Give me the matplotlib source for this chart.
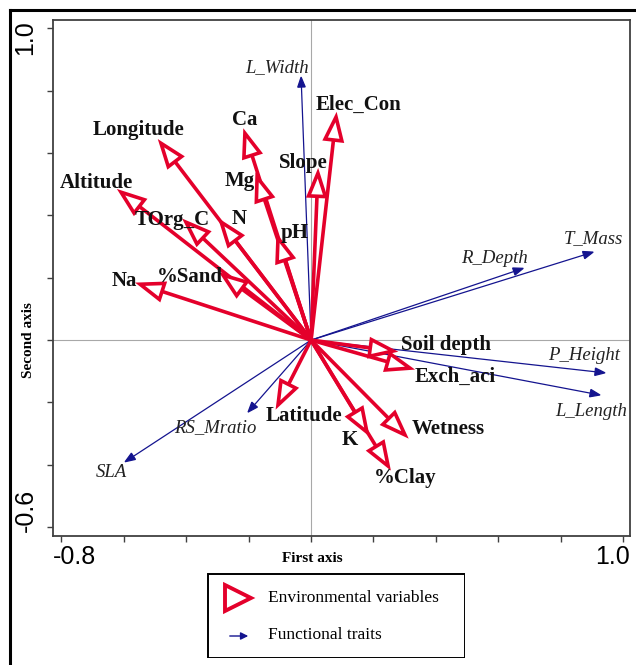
import numpy as np
import matplotlib
matplotlib.use("Agg")
import matplotlib.pyplot as plt
from matplotlib.patches import Polygon, Rectangle
from matplotlib.lines import Line2D

# Environmental variables (red, open heads): arrow tips and label centres
env_names = ["Longitude", "Ca", "Altitude", "Mg", "TOrg_C", "N", "pH", "Slope",
             "Elec_Con", "%Sand", "Na", "Soil depth", "Exch_aci", "Wetness",
             "K", "%Clay", "Latitude"]
env_x = [-0.481, -0.212, -0.609, -0.173, -0.401, -0.288, -0.106, 0.022,
         0.080, -0.282, -0.548, 0.263, 0.317, 0.301, 0.179, 0.247, -0.106]
env_y = [0.631, 0.663, 0.474, 0.522, 0.378, 0.378, 0.327, 0.535,
         0.715, 0.208, 0.179, -0.035, -0.090, -0.304, -0.295, -0.404, -0.208]
env_lab_x = [-0.554, -0.212, -0.689, -0.228, -0.446, -0.231, -0.054, -0.026,
             0.151, -0.388, -0.599, 0.433, 0.462, 0.439, 0.125, 0.301, -0.022]
env_lab_y = [0.673, 0.705, 0.503, 0.510, 0.385, 0.388, 0.343, 0.567,
             0.753, 0.202, 0.189, -0.016, -0.119, -0.285, -0.321, -0.442, -0.244]

# Functional traits (blue, filled heads)
trait_names = ["L_Width", "T_Mass", "R_Depth", "P_Height", "L_Length", "RS_Mratio", "SLA"]
trait_x = [-0.032, 0.904, 0.680, 0.942, 0.926, -0.202, -0.596]
trait_y = [0.843, 0.282, 0.230, -0.105, -0.176, -0.231, -0.390]
trait_lab_x = [-0.109, 0.904, 0.587, 0.875, 0.897, -0.308, -0.641]
trait_lab_y = [0.872, 0.324, 0.263, -0.051, -0.228, -0.282, -0.423]

RED = "#E4002B"
BLUE = "#14148F"
SERIF = ["Liberation Serif", "DejaVu Serif"]
SANS = ["Liberation Sans", "DejaVu Sans"]


def arrow(ax, x, y, color, lw, head_len, head_w, fill, zorder):
    d = np.hypot(x, y)
    ux, uy = x / d, y / d
    bx, by = x - head_len * ux, y - head_len * uy
    px, py = -uy, ux
    ax.plot([0, bx], [0, by], color=color, lw=lw, solid_capstyle="butt", zorder=zorder)
    head = Polygon([[x, y], [bx + head_w * px, by + head_w * py], [bx - head_w * px, by - head_w * py]],
                   closed=True, facecolor=fill, edgecolor=color, lw=lw, joinstyle="miter", zorder=zorder + 0.1)
    ax.add_patch(head)


fig = plt.figure(figsize=(6.36, 6.65), dpi=100)
ax = fig.add_axes([53 / 636, 129 / 665, 577 / 636, 516 / 665])
ax.set_xlim(-0.827, 1.022)
ax.set_ylim(-0.628, 1.026)

ax.axhline(0, color="#A8A8A8", lw=0.8, zorder=1)
ax.axvline(0, color="#A8A8A8", lw=0.8, zorder=1)

for x, y in zip(trait_x, trait_y):
    arrow(ax, x, y, BLUE, 0.9, 0.032, 0.012, BLUE, 2)
for x, y in zip(env_x, env_y):
    arrow(ax, x, y, RED, 2.6, 0.074, 0.027, "white", 3)

for name, x, y in zip(env_names, env_lab_x, env_lab_y):
    ax.text(x, y, name, ha="center", va="center", fontsize=15, fontweight="bold",
            family=SERIF, color="#111111", zorder=5)
for name, x, y in zip(trait_names, trait_lab_x, trait_lab_y):
    ax.text(x, y, name, ha="center", va="center", fontsize=13.5, fontstyle="italic",
            family=SERIF, color="#222222", zorder=5)

ax.set_xticks(np.round(np.arange(-0.8, 1.01, 0.2), 1))
ax.set_yticks(np.round(np.arange(-0.6, 1.01, 0.2), 1))
ax.set_xticklabels([])
ax.set_yticklabels([])
ax.tick_params(direction="out", length=4, width=1, color="#404040")
for s in ax.spines.values():
    s.set_color("#404040")
    s.set_linewidth(1.3)

# end labels only, like the original
ax.text(-0.827, -0.695, "-0.8", ha="left", va="center", fontsize=18, family=SANS)
ax.text(1.022, -0.695, "1.0", ha="right", va="center", fontsize=18, family=SANS)
ax.text(-0.915, 1.026, "1.0", ha="center", va="top", rotation=90, fontsize=18, family=SANS)
ax.text(-0.915, -0.615, "-0.6", ha="center", va="bottom", rotation=90, fontsize=18, family=SANS)

ax.text(0.005, -0.700, "First axis", ha="center", va="center", fontsize=11,
        fontweight="bold", family=SERIF)
ax.text(-0.905, 0.0, "Second axis", ha="center", va="center", rotation=90, fontsize=11,
        fontweight="bold", family=SERIF)

for t in ax.texts:
    t.set_clip_on(False)

# legend box
lax = fig.add_axes([207 / 636, 7 / 665, 258 / 636, 85 / 665])
lax.set_xlim(0, 258)
lax.set_ylim(0, 85)
lax.axis("off")
lax.add_patch(Rectangle((0.5, 0.5), 257, 84, fill=False, edgecolor="black", lw=1.4))
lax.plot([31], [60], marker=">", markersize=19, markerfacecolor="white",
         markeredgecolor=RED, markeredgewidth=2.8)
lax.text(61, 60, "Environmental variables", ha="left", va="center", fontsize=12.5, family=SERIF)
lax.annotate("", xy=(44, 22), xytext=(20, 22),
             arrowprops=dict(arrowstyle="-|>", color=BLUE, lw=1.0, mutation_scale=11))
lax.text(61, 23, "Functional traits", ha="left", va="center", fontsize=12.5, family=SERIF)

# outer frame
fig.add_artist(Line2D([10 / 636, 10 / 636], [0, 655 / 665], color="black", lw=2.2))
fig.add_artist(Line2D([10 / 636, 1], [655 / 665, 655 / 665], color="black", lw=2.2))

fig.savefig("out.png", dpi=100)
